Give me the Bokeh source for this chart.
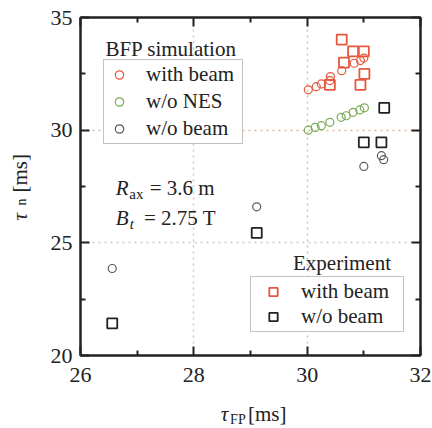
import math
from bokeh.plotting import figure
from bokeh.layouts import row, column
from bokeh.models import (LinearAxis, FixedTicker, Grid, Legend, LegendItem, Label,
                          Range1d)
from bokeh.embed import file_html
from bokeh.resources import INLINE

# BFP simulation results
sim_beam_x = [30.02, 30.16, 30.25, 30.40, 30.41, 30.61, 30.83, 30.94, 31.00]
sim_beam_y = [31.79, 31.93, 32.05, 32.20, 32.38, 32.64, 32.97, 33.09, 33.20]

sim_nones_x = [30.02, 30.14, 30.25, 30.40, 30.60, 30.69, 30.81, 30.93, 31.01]
sim_nones_y = [30.00, 30.12, 30.20, 30.35, 30.57, 30.64, 30.79, 30.90, 30.99]

sim_nobeam_x = [26.56, 29.11, 31.00, 31.31, 31.35]
sim_nobeam_y = [23.86, 26.60, 28.39, 28.87, 28.69]

# Experimental results
exp_beam_x = [30.61, 30.81, 31.00, 30.65, 31.01, 30.40, 30.94]
exp_beam_y = [34.02, 33.50, 33.50, 33.00, 32.50, 32.01, 32.01]

exp_nobeam_x = [26.56, 29.11, 31.36, 31.00, 31.31]
exp_nobeam_y = [21.43, 25.44, 30.99, 29.46, 29.46]

x_ticks = [26, 28, 30, 32]
x_minor = [27, 29, 31]
y_ticks = [20, 25, 30, 35]
y_minor = [22.5, 27.5, 32.5]

RED = "#e5583f"
GREEN = "#7aaa58"
GRAY = "#5a5a5a"
BLACK = "#222222"
FONT = "Liberation Serif"

p = figure(width=400, height=400, output_backend="svg", toolbar_location=None,
           x_range=Range1d(26, 32), y_range=Range1d(20, 35),
           x_axis_location=None, y_axis_location=None,
           min_border_left=48, min_border_right=12, min_border_top=17,
           min_border_bottom=45)
p.xgrid.visible = False
p.ygrid.visible = False
p.outline_line_color = BLACK
p.outline_line_width = 2
p.background_fill_color = "white"
p.border_fill_color = "white"


def make_axis(show_labels, standoff):
    ax = LinearAxis(axis_label=None)
    ax.axis_line_width = 2
    ax.axis_line_color = BLACK
    ax.major_tick_line_width = 2
    ax.minor_tick_line_width = 2
    ax.major_tick_line_color = BLACK
    ax.minor_tick_line_color = BLACK
    ax.major_tick_in = 9
    ax.major_tick_out = 0
    ax.minor_tick_in = 5
    ax.minor_tick_out = 0
    ax.major_label_standoff = standoff
    ax.major_label_text_font = FONT
    ax.major_label_text_color = BLACK
    if show_labels:
        ax.major_label_text_font_size = "22px"
    else:
        ax.major_label_text_font_size = "0px"
        ax.major_label_text_alpha = 0
    return ax


xb = make_axis(True, 12)
xb.ticker = FixedTicker(ticks=x_ticks, minor_ticks=x_minor)
xt = make_axis(False, 0)
xt.ticker = FixedTicker(ticks=x_ticks, minor_ticks=x_minor)
yl = make_axis(True, 8)
yl.ticker = FixedTicker(ticks=y_ticks, minor_ticks=y_minor)
yr = make_axis(False, 0)
yr.ticker = FixedTicker(ticks=y_ticks, minor_ticks=y_minor)
p.add_layout(xb, "below")
p.add_layout(xt, "above")
p.add_layout(yl, "left")
p.add_layout(yr, "right")

# dotted guide lines
for dim, ticks, color in [(0, [28], "#c8c8c8"), (0, [30], "#e6b49a"),
                          (1, [25], "#c8c8c8"), (1, [30], "#e6b49a")]:
    g = Grid(dimension=dim, ticker=FixedTicker(ticks=ticks),
             grid_line_color=color, grid_line_dash="dotted", grid_line_width=1.5)
    p.add_layout(g)

# markers
r_sb = p.scatter(sim_beam_x, sim_beam_y, marker="circle", size=8,
                 fill_color=None, line_color=RED, line_width=1.2)
r_sn = p.scatter(sim_nones_x, sim_nones_y, marker="circle", size=8,
                 fill_color=None, line_color=GREEN, line_width=1.2)
r_s0 = p.scatter(sim_nobeam_x, sim_nobeam_y, marker="circle", size=8,
                 fill_color=None, line_color=GRAY, line_width=1.2)
r_eb = p.scatter(exp_beam_x, exp_beam_y, marker="square", size=10,
                 fill_color=None, line_color=RED, line_width=1.8)
r_e0 = p.scatter(exp_nobeam_x, exp_nobeam_y, marker="square", size=10,
                 fill_color=None, line_color=BLACK, line_width=1.8)


def style_legend(lg):
    lg.label_text_font = FONT
    lg.label_text_font_size = "21px"
    lg.label_text_color = BLACK
    lg.border_line_color = "#888888"
    lg.border_line_width = 1
    lg.background_fill_alpha = 1
    lg.margin = 0
    lg.padding = 2
    lg.label_height = 21
    lg.glyph_height = 21


leg_sim = Legend(items=[LegendItem(label="with beam", renderers=[r_sb]),
                        LegendItem(label="w/o NES", renderers=[r_sn]),
                        LegendItem(label="w/o beam", renderers=[r_s0])],
                 location=(23, 211))
style_legend(leg_sim)
leg_sim.glyph_width = 26
leg_sim.label_standoff = 14
leg_sim.spacing = 2
leg_sim.label_width = 94
p.add_layout(leg_sim)

leg_exp = Legend(items=[LegendItem(label="with beam", renderers=[r_eb]),
                        LegendItem(label="w/o beam", renderers=[r_e0])],
                 location=(170, 23))
style_legend(leg_exp)
leg_exp.glyph_width = 40
leg_exp.label_standoff = 8
leg_exp.spacing = 0
leg_exp.label_width = 100
p.add_layout(leg_exp)


def txt(fig, x, y, s, size="21px", style="normal", angle=0.0):
    fig.add_layout(Label(x=x, y=y, text=s, text_font=FONT, text_font_size=size,
                         text_font_style=style, text_color=BLACK, angle=angle,
                         text_align="left", text_baseline="alphabetic"))


# group titles
txt(p, 26.44, 33.62, "BFP simulation")
txt(p, 29.75, 24.11, "Experiment")

# operating conditions
txt(p, 26.62, 27.44, "R", style="italic")
txt(p, 26.86, 27.18, "ax", size="15px")
txt(p, 27.22, 27.44, "= 3.6 m")
txt(p, 26.62, 26.11, "B", style="italic")
txt(p, 26.87, 25.84, "t", size="15px", style="italic")
txt(p, 27.12, 26.11, "= 2.75 T")


def strip(w, h):
    s = figure(width=w, height=h, output_backend="svg", toolbar_location=None,
               x_range=Range1d(0, w), y_range=Range1d(0, h),
               x_axis_location=None, y_axis_location=None,
               min_border=0, min_border_left=0, min_border_right=0,
               min_border_top=0, min_border_bottom=0)
    s.xgrid.visible = False
    s.ygrid.visible = False
    s.outline_line_color = None
    s.background_fill_color = "white"
    s.border_fill_color = "white"
    return s


# x-axis title strip
bottom = strip(400, 28)
txt(bottom, 165, 15, "τ", style="italic")
txt(bottom, 176, 9, "FP", size="14px")
txt(bottom, 197, 15, "[ms]")

# y-axis title strip
left = strip(32, 428)
up = math.pi / 2
txt(left, 19, 208, "τ", style="italic", angle=up)
txt(left, 21, 223, "n", size="14px", angle=up)
txt(left, 19, 236, "[ms]", angle=up)

layout = row(left, column(p, bottom, spacing=0), spacing=0)

open("out.html", "w").write(file_html(layout, INLINE))
